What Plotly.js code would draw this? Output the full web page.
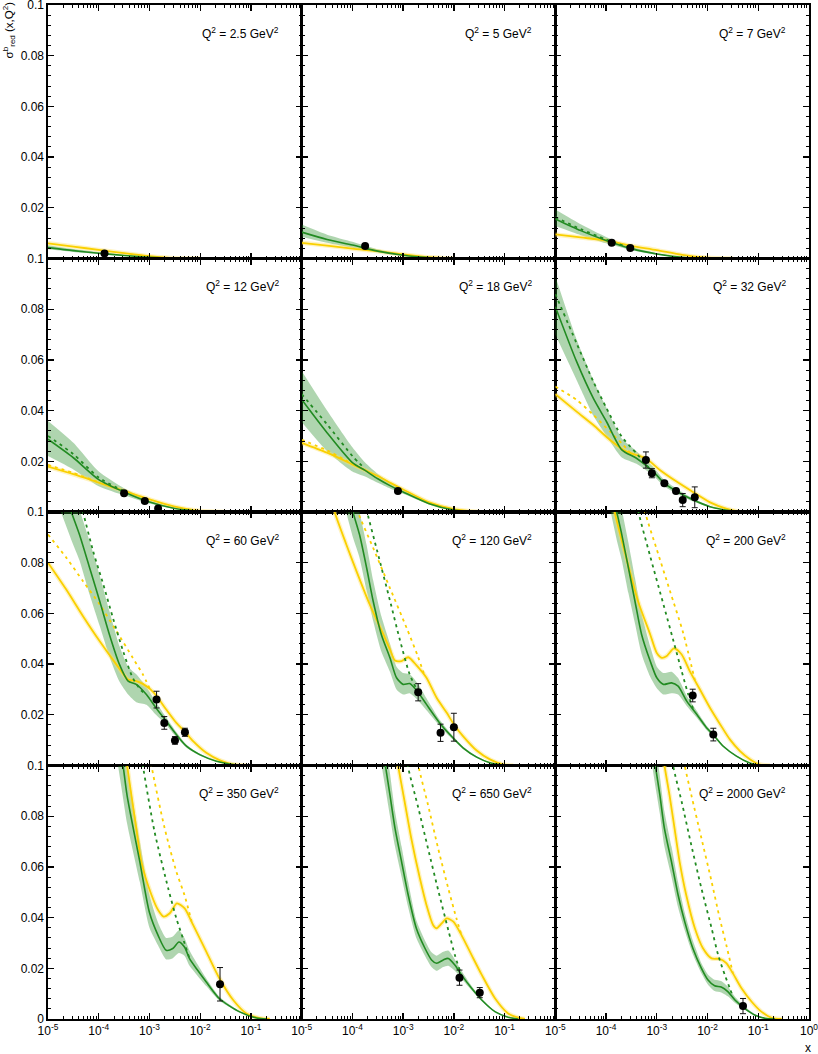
<!DOCTYPE html>
<html><head><meta charset="utf-8">
<script src="https://cdn.plot.ly/plotly-3.0.1.min.js"></script>
<style>html,body{margin:0;padding:0;background:#fff}#chart{width:818px;height:1054px}</style>
</head><body><div id="chart"></div>
<script>
// Q^2 values of the 12 panels (GeV^2)
const Q2 = [2.5, 5, 7, 12, 18, 32, 60, 120, 200, 350, 650, 2000];

// green model: central curve + uncertainty band (x given as log10 x)
const greenLgX = [
 [-5,-4.5,-4,-3.5,-3,-2.5,-2],
 [-5,-4.5,-4,-3.5,-3,-2.5,-2],
 [-5,-4.5,-4,-3.5,-3,-2.5,-2,-1.5],
 [-5,-4.5,-4,-3.5,-3,-2.5,-2,-1.5],
 [-5,-4.5,-4,-3.75,-3.5,-3.25,-3,-2.5,-2,-1.5],
 [-5,-4.58,-4.25,-3.99,-3.69,-3.40,-3.07,-2.85,-2.62,-2.28,-1.95,-1.62,-1.29],
 [-4.8,-4.54,-4.38,-4.18,-3.98,-3.79,-3.59,-3.42,-3.26,-3.06,-2.87,-2.67,-2.47,-2.27,-2.01,-1.68,-1.35,-1.02],
 [-4.15,-3.99,-3.86,-3.72,-3.59,-3.43,-3.26,-3.13,-3.0,-2.87,-2.70,-2.54,-2.28,-2.08,-1.82,-1.55,-1.29,-0.96],
 [-3.95,-3.79,-3.69,-3.56,-3.43,-3.30,-3.13,-3.0,-2.87,-2.71,-2.58,-2.41,-2.21,-2.02,-1.89,-1.69,-1.43,-1.18,-0.97],
 [-3.65,-3.52,-3.44,-3.19,-3.0,-2.83,-2.67,-2.54,-2.42,-2.31,-2.21,-2.05,-1.88,-1.62,-1.22,-0.89,-0.69],
 [-3.45,-3.35,-3.26,-3.16,-3.03,-2.90,-2.74,-2.57,-2.44,-2.34,-2.21,-2.11,-1.98,-1.85,-1.65,-1.45,-1.19,-0.93,-0.73],
 [-3.13,-3.03,-2.94,-2.85,-2.71,-2.58,-2.45,-2.29,-2.12,-1.99,-1.86,-1.73,-1.60,-1.46,-1.27,-1.07,-0.87,-0.67]
];
const greenY = [
 [0.0043,0.0031,0.0021,0.0012,0.0005,0.0001,0],
 [0.0104,0.0075,0.0053,0.0029,0.0013,0.0004,0],
 [0.0156,0.0110,0.0071,0.0039,0.0018,0.0005,0,0],
 [0.0287,0.0214,0.0128,0.0079,0.0039,0.0014,0.0003,0],
 [0.0444,0.0313,0.0195,0.0164,0.0131,0.0103,0.0079,0.0034,0.0008,0],
 [0.081,0.0593,0.0448,0.0356,0.0245,0.0212,0.0159,0.0113,0.0083,0.0047,0.0021,0.0007,0],
 [0.116,0.1,0.0911,0.078,0.0648,0.0517,0.0398,0.0333,0.032,0.028,0.0227,0.0175,0.0122,0.0076,0.0043,0.0017,0.0004,0],
 [0.112,0.1,0.0911,0.078,0.0648,0.0517,0.0425,0.0346,0.032,0.0323,0.0287,0.0241,0.0168,0.0122,0.007,0.0033,0.0011,0],
 [0.114,0.1,0.0911,0.078,0.0648,0.0517,0.0412,0.0346,0.032,0.0326,0.0313,0.0254,0.0201,0.0149,0.0122,0.0076,0.0037,0.0011,0],
 [0.118,0.1,0.088,0.062,0.042,0.033,0.0271,0.0278,0.0304,0.0284,0.0238,0.0192,0.0146,0.008,0.0028,0.0004,0],
 [0.113,0.1,0.0884,0.0752,0.062,0.0489,0.0358,0.0279,0.0233,0.022,0.0233,0.0239,0.0213,0.0174,0.0121,0.0075,0.0029,0.0007,0],
 [0.113,0.1,0.0884,0.0752,0.062,0.0489,0.0384,0.0279,0.02,0.0154,0.0131,0.0126,0.0108,0.0075,0.0042,0.0016,0.0003,0]
];
const greenHi = [
 [0.0052,0.0037,0.0025,0.0014,0.0006,0.0001,0],
 [0.0134,0.0094,0.0066,0.0036,0.0016,0.0005,0],
 [0.0193,0.0135,0.0085,0.0046,0.0021,0.0006,0,0],
 [0.0359,0.0273,0.0160,0.0094,0.0045,0.0016,0.0004,0],
 [0.0556,0.0400,0.0255,0.0195,0.0150,0.0115,0.0086,0.0037,0.0009,0],
 [0.093,0.068,0.052,0.041,0.029,0.0240,0.0178,0.0126,0.0093,0.0053,0.0024,0.0008,0],
 [0.127,0.111,0.101,0.0885,0.075,0.061,0.047,0.039,0.036,0.031,0.025,0.019,0.0132,0.0082,0.0047,0.0019,0.0005,0],
 [0.122,0.109,0.100,0.087,0.073,0.059,0.048,0.039,0.0365,0.036,0.032,0.0265,0.0180,0.0130,0.0075,0.0036,0.0012,0],
 [0.124,0.111,0.101,0.088,0.074,0.060,0.047,0.039,0.0365,0.037,0.0345,0.0275,0.0215,0.0158,0.0128,0.0080,0.0039,0.0012,0],
 [0.132,0.114,0.1,0.07,0.049,0.038,0.032,0.0325,0.035,0.032,0.027,0.0215,0.016,0.0088,0.0031,0.0005,0],
 [0.123,0.109,0.097,0.082,0.068,0.054,0.039,0.031,0.0263,0.025,0.0265,0.027,0.0235,0.019,0.013,0.0080,0.0031,0.0008,0],
 [0.121,0.108,0.096,0.082,0.068,0.054,0.042,0.031,0.022,0.0175,0.0155,0.015,0.0128,0.0088,0.005,0.0019,0.0004,0]
];
const greenLo = [
 [0.0036,0.0026,0.0018,0.0010,0.0004,0.0001,0],
 [0.0086,0.0062,0.0042,0.0024,0.0011,0.0003,0],
 [0.0128,0.0092,0.0060,0.0033,0.0015,0.0004,0,0],
 [0.0221,0.0168,0.0102,0.0066,0.0034,0.0012,0.0002,0],
 [0.0355,0.0240,0.0160,0.0140,0.0115,0.0092,0.0072,0.0031,0.0007,0],
 [0.070,0.052,0.038,0.030,0.0215,0.0190,0.0143,0.0101,0.0074,0.0041,0.0018,0.0006,0],
 [0.103,0.089,0.081,0.0675,0.055,0.043,0.033,0.028,0.025,0.024,0.020,0.016,0.0112,0.0070,0.0039,0.0015,0.0003,0],
 [0.102,0.090,0.082,0.069,0.057,0.045,0.037,0.030,0.028,0.0285,0.0255,0.0218,0.0156,0.0114,0.0065,0.0030,0.0010,0],
 [0.104,0.089,0.081,0.068,0.056,0.044,0.035,0.0305,0.028,0.0285,0.028,0.0235,0.0188,0.014,0.0116,0.0072,0.0035,0.0010,0],
 [0.104,0.087,0.077,0.054,0.036,0.029,0.0235,0.024,0.026,0.025,0.021,0.017,0.013,0.0072,0.0025,0.0003,0],
 [0.103,0.091,0.080,0.068,0.056,0.044,0.032,0.025,0.0205,0.019,0.0205,0.021,0.019,0.016,0.0113,0.0070,0.0027,0.0006,0],
 [0.105,0.092,0.081,0.068,0.056,0.044,0.035,0.0255,0.018,0.0135,0.011,0.0105,0.009,0.0064,0.0036,0.0013,0.0002,0]
];

// green dashed curve (log10 x)
const dashLgX = [
 [], [],
 [-5,-4.5,-4,-3.5],
 [-5,-4.5,-4,-3.5],
 [-5,-4.5,-4,-3.75],
 [-5,-4.58,-4.25,-3.99,-3.69,-3.40,-3.14],
 [-4.45,-4.31,-4.11,-3.91,-3.72,-3.52,-3.33,-3.16,-3.06],
 [-3.85,-3.71,-3.51,-3.26,-3.07,-2.87,-2.70],
 [-3.5,-3.36,-3.13,-2.87,-2.67,-2.51,-2.38,-2.28],
 [-3.25,-3.13,-2.90,-2.63,-2.47,-2.34,-2.21],
 [-3.05,-2.91,-2.70,-2.51,-2.31,-2.11,-1.98,-1.87],
 [-2.78,-2.68,-2.51,-2.32,-2.12,-1.92,-1.79,-1.66,-1.56,-1.50]
];
const dashY = [
 [], [],
 [0.0163,0.0116,0.0075,0.0040],
 [0.0300,0.0228,0.0136,0.0082],
 [0.0465,0.0346,0.0221,0.0170],
 [0.086,0.0665,0.0514,0.0409,0.0297,0.0231,0.0170],
 [0.111,0.1,0.0845,0.0714,0.0582,0.0451,0.0346,0.0295,0.028],
 [0.112,0.1,0.0845,0.0651,0.05,0.0359,0.0287],
 [0.117,0.1,0.0825,0.0636,0.049,0.0372,0.028,0.0221],
 [0.117,0.1,0.0739,0.0515,0.0397,0.0318,0.0238],
 [0.117,0.1,0.0832,0.0673,0.0509,0.0351,0.0252,0.0184],
 [0.113,0.1,0.0857,0.0686,0.0515,0.0358,0.0252,0.0174,0.0121,0.0088]
];

// yellow model: solid curve (log10 x)
const yelLgX = [
 [-5,-4.5,-4,-3.5,-3,-2.5,-2],
 [-5,-4.5,-4,-3.5,-3,-2.5,-2],
 [-5,-4.5,-4,-3.5,-3,-2.5,-2,-1.5],
 [-5,-4.5,-4,-3.5,-3,-2.5,-2,-1.5],
 [-5,-4.5,-4,-3.75,-3.5,-3.25,-3,-2.5,-2,-1.5],
 [-5,-4.58,-4.25,-3.92,-3.60,-3.22,-2.94,-2.61,-2.28,-1.95,-1.62,-1.36],
 [-5,-4.64,-4.31,-3.98,-3.65,-3.42,-3.26,-3.13,-2.98,-2.86,-2.67,-2.47,-2.30,-2.14,-1.88,-1.61,-1.35,-1.09],
 [-4.5,-4.35,-4.12,-3.92,-3.66,-3.39,-3.26,-3.16,-3.03,-2.90,-2.74,-2.54,-2.34,-2.14,-2.0,-1.82,-1.55,-1.29,-1.03,-0.83],
 [-3.98,-3.83,-3.60,-3.37,-3.13,-3.0,-2.90,-2.81,-2.66,-2.51,-2.35,-2.15,-1.95,-1.75,-1.56,-1.36,-1.16,-0.97,-0.77],
 [-3.55,-3.44,-3.26,-3.16,-2.96,-2.83,-2.72,-2.60,-2.46,-2.31,-2.14,-1.88,-1.62,-1.35,-1.09,-0.82,-0.63],
 [-3.22,-3.10,-2.97,-2.84,-2.67,-2.54,-2.41,-2.34,-2.24,-2.14,-2.01,-1.85,-1.65,-1.45,-1.19,-0.93,-0.73,-0.60],
 [-2.95,-2.85,-2.75,-2.65,-2.55,-2.42,-2.25,-2.09,-1.92,-1.76,-1.63,-1.50,-1.33,-1.13,-0.94,-0.74,-0.54]
];
const yelY = [
 [0.0060,0.0047,0.0034,0.0021,0.0009,0.0001,0],
 [0.0062,0.0051,0.0039,0.0029,0.0016,0.0005,0],
 [0.0095,0.0083,0.0071,0.0050,0.0033,0.0014,0.0003,0],
 [0.0179,0.0149,0.0116,0.0083,0.0050,0.0021,0.0004,0],
 [0.0273,0.0234,0.0188,0.0165,0.0142,0.0115,0.0089,0.0039,0.0011,0],
 [0.0465,0.0396,0.0343,0.0284,0.0238,0.0212,0.0166,0.0120,0.0078,0.0038,0.0012,0],
 [0.080,0.0694,0.0589,0.049,0.0398,0.0339,0.0333,0.0322,0.0300,0.0274,0.0221,0.0168,0.0133,0.0096,0.0050,0.0020,0.0004,0],
 [0.112,0.1,0.0872,0.0767,0.0636,0.0517,0.0458,0.0414,0.0412,0.0427,0.0396,0.0346,0.0267,0.0208,0.0162,0.0116,0.0059,0.0024,0.0004,0],
 [0.115,0.1,0.0818,0.0648,0.0517,0.0444,0.0425,0.0431,0.0462,0.0438,0.0372,0.030,0.0227,0.0162,0.0103,0.0057,0.0024,0.0004,0],
 [0.117,0.1,0.0752,0.062,0.0489,0.043,0.0404,0.0417,0.0456,0.0437,0.0371,0.0266,0.016,0.0075,0.0022,0.0003,0],
 [0.114,0.1,0.0857,0.0713,0.0555,0.045,0.0371,0.0358,0.0377,0.0397,0.0384,0.0331,0.0252,0.0174,0.0082,0.0022,0.0005,0],
 [0.113,0.1,0.0884,0.0752,0.062,0.0489,0.0358,0.0279,0.0239,0.0237,0.022,0.018,0.0121,0.0068,0.0029,0.0005,0]
];

// yellow dotted curve (log10 x)
const dotLgX = [
 [], [], [],
 [-5,-4.5,-4],
 [-5,-4.5,-4],
 [-5,-4.58,-4.25,-3.92,-3.66,-3.52],
 [-5,-4.64,-4.31,-3.98,-3.65,-3.33,-3.13,-3.0],
 [-4.05,-3.89,-3.59,-3.26,-2.93,-2.72,-2.58],
 [-3.38,-3.23,-3.0,-2.74,-2.48,-2.25],
 [-3.1,-2.96,-2.70,-2.47,-2.31,-2.17],
 [-2.85,-2.70,-2.51,-2.31,-2.11,-1.95,-1.85],
 [-2.55,-2.45,-2.32,-2.12,-1.92,-1.76,-1.63,-1.50]
];
const dotY = [
 [], [], [],
 [0.0186,0.0154,0.0117],
 [0.0285,0.0243,0.0190],
 [0.0495,0.0442,0.0383,0.0317,0.0264,0.0232],
 [0.0911,0.082,0.0727,0.0635,0.053,0.0425,0.0359,0.0305],
 [0.112,0.1,0.0858,0.07,0.0542,0.0436,0.0356],
 [0.117,0.1,0.0852,0.0688,0.0523,0.0336],
 [0.12,0.1,0.0752,0.0581,0.0489,0.0385],
 [0.118,0.1,0.0845,0.0673,0.0515,0.0397,0.0331],
 [0.113,0.1,0.0884,0.0713,0.0542,0.0397,0.0292,0.018]
];

// measured data points
const ptX = [[1.3e-4],[1.78e-4],[1.29e-4,3.0e-4],[3.16e-4,8.1e-4,1.48e-3],[7.9e-4],
 [6.1e-4,8.0e-4,1.41e-3,2.39e-3,3.24e-3,5.6e-3],[1.38e-3,1.96e-3,3.18e-3,5.0e-3],
 [1.98e-3,5.46e-3,1.0e-2],[5.1e-3,1.3e-2],[2.46e-2],[1.29e-2,3.24e-2],[0.050]];
const ptY = [[0.0020],[0.0049],[0.0062,0.0041],[0.0074,0.0043,0.0014],[0.0083],
 [0.0205,0.0153,0.0113,0.0083,0.0047,0.0058],[0.026,0.0168,0.0099,0.0131],
 [0.0289,0.0129,0.0151],[0.0276,0.0122],[0.0137],[0.0163,0.0104],[0.0051]];
const ptErr = [[0.0003],[0.0003],[0.0004,0.0004],[0.0004,0.0004,0.0004],[0.0005],
 [0.0032,0.0018,0.0008,0.0008,0.0026,0.0041],[0.0033,0.0025,0.0015,0.0016],
 [0.0034,0.0034,0.0055],[0.0025,0.0025],[0.0066],[0.003,0.002],[0.003]];

// tick labels
const xTickVals = [1e-5,1e-4,1e-3,1e-2,1e-1,1];
const xTickText = ['10<sup>-5</sup>','10<sup>-4</sup>','10<sup>-3</sup>','10<sup>-2</sup>','10<sup>-1</sup>','10<sup>0</sup>'];
const yTickVals = [0,0.02,0.04,0.06,0.08,0.1];
const yTickText = ['0','0.02','0.04','0.06','0.08','0.1'];

const FONT = "'Liberation Sans', Arial, Helvetica, sans-serif";
const GREEN = 'rgb(34,139,34)';
const YELLOW = 'rgb(250,208,0)';
const toX = a => a.map(v => Math.pow(10, v));

const minorX = [];
for (let d = -5; d < 0; d++) for (let k = 2; k <= 9; k++) minorX.push(k * Math.pow(10, d));

const traces = [];
const layout = {
  width: 818, height: 1054,
  margin: {l: 48, r: 9, t: 5, b: 35, pad: 0},
  paper_bgcolor: 'white', plot_bgcolor: 'white',
  showlegend: false,
  font: {family: FONT, size: 12, color: 'black'},
  annotations: []
};

for (let i = 0; i < 12; i++) {
  const n = i + 1;
  const sfx = n === 1 ? '' : String(n);
  const xa = 'x' + sfx, ya = 'y' + sfx;
  const r = Math.floor(i / 3), c = i % 3;
  const gx = toX(greenLgX[i]);
  const base = {xaxis: xa, yaxis: ya, hoverinfo: 'skip', showlegend: false};
  traces.push(Object.assign({x: gx, y: greenLo[i], mode: 'lines',
    line: {width: 0, shape: 'spline', smoothing: 0.6, color: 'rgba(0,0,0,0)'}}, base));
  traces.push(Object.assign({x: gx, y: greenHi[i], mode: 'lines', fill: 'tonexty',
    fillcolor: 'rgba(34,139,34,0.36)',
    line: {width: 0, shape: 'spline', smoothing: 0.6, color: 'rgba(0,0,0,0)'}}, base));
  const yx = toX(yelLgX[i]);
  traces.push(Object.assign({x: yx, y: yelY[i], mode: 'lines',
    line: {width: 4.5, shape: 'spline', smoothing: 0.7, color: 'rgba(255,226,100,0.40)'}}, base));
  traces.push(Object.assign({x: yx, y: yelY[i], mode: 'lines',
    line: {width: 1.8, shape: 'spline', smoothing: 0.7, color: YELLOW}}, base));
  if (dotLgX[i].length) traces.push(Object.assign({x: toX(dotLgX[i]), y: dotY[i], mode: 'lines',
    line: {width: 1.8, shape: 'spline', smoothing: 0.7, color: YELLOW, dash: '3px,4px'}}, base));
  if (dashLgX[i].length) traces.push(Object.assign({x: toX(dashLgX[i]), y: dashY[i], mode: 'lines',
    line: {width: 1.8, shape: 'spline', smoothing: 0.7, color: GREEN, dash: '3px,4px'}}, base));
  traces.push(Object.assign({x: gx, y: greenY[i], mode: 'lines',
    line: {width: 1.6, shape: 'spline', smoothing: 0.7, color: GREEN}}, base));
  traces.push(Object.assign({x: ptX[i], y: ptY[i], mode: 'markers',
    marker: {color: 'black', size: 8, symbol: 'circle'},
    error_y: {type: 'data', array: ptErr[i], visible: true, color: '#111', thickness: 1, width: 3}}, base));

  const xv = c === 2 ? xTickVals : xTickVals.slice(0, 5);
  const xt = c === 2 ? xTickText : xTickText.slice(0, 5);
  const yv = r === 3 ? yTickVals : yTickVals.slice(1);
  const yt = r === 3 ? yTickText : yTickText.slice(1);
  layout['xaxis' + sfx] = {
    type: 'log', range: [-5, 0], domain: [c / 3, (c + 1) / 3], anchor: ya,
    showline: true, linecolor: 'black', linewidth: 1.6, mirror: 'ticks',
    ticks: 'inside', ticklen: 6, tickwidth: 1.3, tickcolor: 'black',
    tickmode: 'array', tickvals: xv, ticktext: xt, ticklabeloverflow: 'allow',
    showticklabels: r === 3, tickfont: {family: FONT, size: 12, color: 'black'},
    showgrid: false, zeroline: false, fixedrange: true,
    minor: {tickmode: 'array', tickvals: minorX, ticks: 'inside', ticklen: 3, tickwidth: 1, tickcolor: 'black', showgrid: false}
  };
  layout['yaxis' + sfx] = {
    range: [0, 0.1], domain: [1 - (r + 1) / 4, 1 - r / 4], anchor: xa,
    showline: true, linecolor: 'black', linewidth: 1.6, mirror: 'ticks',
    ticks: 'inside', ticklen: 6, tickwidth: 1.3, tickcolor: 'black',
    tickmode: 'array', tickvals: yv, ticktext: yt, ticklabeloverflow: 'allow',
    showticklabels: c === 0, tickfont: {family: FONT, size: 12, color: 'black'},
    showgrid: false, zeroline: false, fixedrange: true,
    minor: {dtick: 0.004, tick0: 0, ticks: 'inside', ticklen: 3, tickwidth: 1, tickcolor: 'black', showgrid: false}
  };
  layout.annotations.push({
    xref: xa + ' domain', yref: ya + ' domain', x: 0.917, y: 0.89,
    xanchor: 'right', yanchor: 'middle', showarrow: false,
    text: 'Q<sup>2</sup> = ' + Q2[i] + ' GeV<sup>2</sup>',
    font: {family: FONT, size: 12, color: 'black'}
  });
}

layout.annotations.push({
  xref: 'paper', yref: 'paper', x: -0.0512, y: 0.975, xanchor: 'center', yanchor: 'middle',
  textangle: -90, showarrow: false,
  text: 'σ<sup>b</sup><sub>red</sub> (x,Q<sup>2</sup>)',
  font: {family: FONT, size: 11.5, color: 'black'}
});
layout.annotations.push({
  xref: 'paper', yref: 'paper', x: 0.9987, y: -0.029, xanchor: 'center', yanchor: 'middle',
  showarrow: false, text: 'x', font: {family: FONT, size: 12, color: 'black'}
});

Plotly.newPlot('chart', traces, layout, {displayModeBar: false, staticPlot: true});
</script>
</body></html>
